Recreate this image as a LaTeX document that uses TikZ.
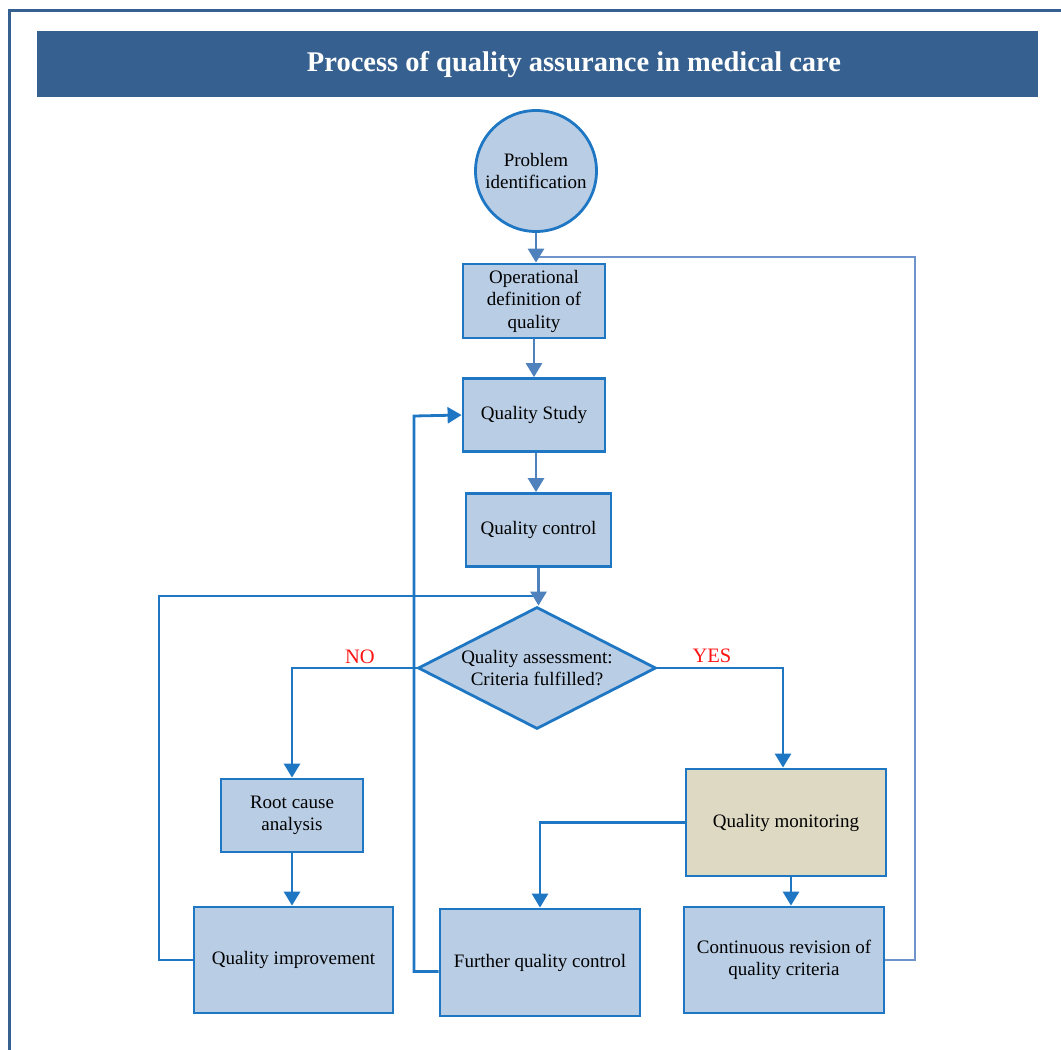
\documentclass[tikz,border=0pt]{standalone}
\usepackage{fontspec}
\setmainfont{Liberation Serif}
\usetikzlibrary{shapes.geometric,arrows.meta}

\definecolor{frameblue}{RGB}{54,96,143}
\definecolor{boxfill}{RGB}{185,205,229}
\definecolor{boxline}{RGB}{31,119,196}
\definecolor{upperarrow}{RGB}{79,129,189}
\definecolor{feedback}{RGB}{111,148,204}
\definecolor{monfill}{RGB}{221,217,195}
\definecolor{labelred}{RGB}{255,20,20}

\tikzset{
  txt/.style={font=\fontsize{19}{22.5}\selectfont, text=black, align=center},
  stepbox/.style={txt, draw=boxline, line width=2.8pt, fill=boxfill, rectangle, inner sep=0pt},
  startcircle/.style={txt, draw=boxline, line width=2.8pt, fill=boxfill, circle, minimum size=121pt, inner sep=0pt},
  decision/.style={txt, draw=boxline, line width=2.8pt, fill=boxfill, diamond, aspect=1.95, minimum width=238pt, minimum height=122pt, inner sep=0pt},
  tip/.style={-{Triangle[width=16pt,length=14pt]}},
  arrU/.style={tip, draw=upperarrow, line width=2.8pt},
  conn/.style={draw=boxline, line width=2.8pt},
  fb/.style={draw=feedback, line width=2.2pt},
  answer/.style={font=\fontsize{20.5}{24}\selectfont, text=labelred},
}

\begin{document}
\begin{tikzpicture}[x=1pt,y=-1pt]
\useasboundingbox (0,0) rectangle (1061,1050);

% outer frame (open towards right and bottom)
\draw[frameblue, line width=3.5pt] (1070,10.5) -- (9.5,10.5) -- (9.5,1060);

% title bar
\fill[frameblue] (37,31) rectangle (1038,97);
\node[font=\bfseries\fontsize{28.5}{32}\selectfont, text=white] (title) at (574,65) {Process of quality assurance in medical care};

% nodes
\node[startcircle] (pid) at (536,171) {Problem\\identification};
\node[stepbox, minimum width=142pt, minimum height=74pt] (opd) at (534,301) {Operational\\definition of\\quality};
\node[stepbox, minimum width=142pt, minimum height=73pt] (qs) at (534,415) {Quality Study};
\node[stepbox, minimum width=145pt, minimum height=73pt] (qc) at (538.5,530) {Quality control};
\node[decision] (dia) at (537,668) {Quality assessment:\\Criteria fulfilled?};
\node[stepbox, minimum width=142pt, minimum height=73pt] (rca) at (292,815.5) {Root cause\\analysis};
\node[stepbox, minimum width=199pt, minimum height=106pt] (qi) at (293.5,960) {Quality improvement};
\node[stepbox, minimum width=200pt, minimum height=107pt] (fqc) at (540,962.5) {Further quality control};
\node[stepbox, minimum width=200pt, minimum height=107pt, fill=monfill] (qm) at (786,822.5) {Quality monitoring};
\node[stepbox, minimum width=200pt, minimum height=106pt] (cr) at (784,960) {Continuous revision of\\quality criteria};

% answer labels
\node[answer] (no) at (360,657) {NO};
\node[answer] (yes) at (712,656) {YES};

% loop corners
\coordinate (loopL) at (159,596);
\coordinate (loopM) at (414,416);
\coordinate (loopR) at (915,257);

% back-loops
\draw[fb] (cr.east) -| (loopR) -- (loopR -| pid.south);
\draw[conn] (qi.west) -| (loopL) -- (loopL -| qc.south);
\draw[conn, tip] ([yshift=-9pt]fqc.west) -| (loopM) -- (qs.west);

% main flow
\draw[arrU] (pid.south) -- (pid.south |- opd.north);
\draw[arrU] (opd.south) -- (opd.south |- qs.north);
\draw[arrU] ([xshift=2pt]qs.south) -- ([xshift=2pt]qs.south |- qc.north);
\draw[arrU] (qc.south) -- (qc.south |- dia.north);

% decision branches
\draw[conn, tip] (dia.west) -| (rca.north);
\draw[conn, tip] (dia.east) -| ([xshift=-3pt]qm.north);
\draw[conn, tip] (rca.south) -- (rca.south |- qi.north);
\draw[conn, tip] (qm.west) -| (fqc.north);
\draw[conn, tip] ([xshift=5pt]qm.south) -- ([xshift=5pt]qm.south |- cr.north);
\end{tikzpicture}
\end{document}
